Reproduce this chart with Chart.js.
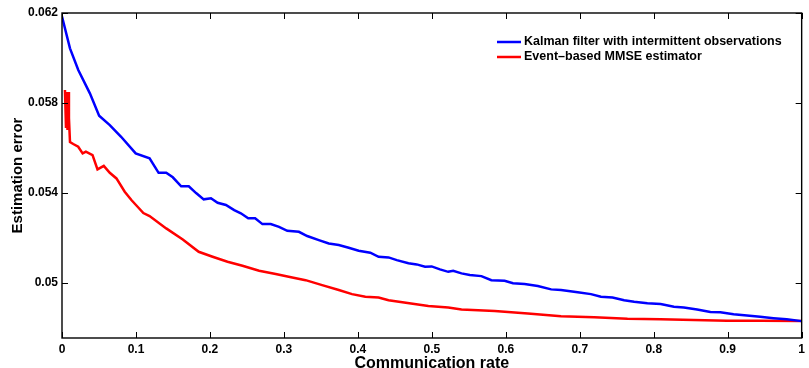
<!DOCTYPE html>
<html>
<head>
<meta charset="utf-8">
<script src="https://cdn.jsdelivr.net/npm/chart.js@4.4.1/dist/chart.umd.min.js"></script>
<style>
html,body{margin:0;padding:0;background:#fff;}
#wrap{width:809px;height:368px;}
</style>
</head>
<body>
<div id="wrap"><canvas id="c" width="809" height="368"></canvas></div>
<script>
var seriesNames = ['Kalman filter with intermittent observations', 'Event\u2013based MMSE estimator'];

var kalmanRate = [0,0.0108,0.022,0.0377,0.0502,0.0646,0.0799,0.0996,0.1184,0.1306,0.1409,0.1498,0.1611,0.1714,0.1813,0.1916,0.2014,0.2104,0.2216,0.2328,0.2418,0.2517,0.2611,0.271,0.2822,0.2934,0.3046,0.3203,0.3315,0.3472,0.3607,0.3742,0.3876,0.4011,0.4168,0.428,0.4415,0.4526,0.4684,0.4796,0.4908,0.4998,0.5110,0.5222,0.5289,0.5401,0.5513,0.567,0.5805,0.5984,0.6097,0.6254,0.6433,0.6613,0.6747,0.6972,0.7151,0.7286,0.7443,0.76,0.7735,0.7914,0.8093,0.8273,0.8407,0.8587,0.8766,0.8901,0.908,0.926,0.9439,0.9619,0.9798,1];
var kalmanErr = [0.06184,0.06043,0.05947,0.05843,0.05744,0.05702,0.0565,0.05576,0.05554,0.0549,0.0549,0.0547,0.0543,0.0543,0.054,0.05372,0.05377,0.05357,0.05347,0.05324,0.0531,0.05288,0.05288,0.05262,0.05262,0.0525,0.05232,0.05228,0.05209,0.05191,0.05176,0.05169,0.05157,0.05144,0.05135,0.05117,0.05114,0.05102,0.05088,0.05083,0.05073,0.05074,0.05061,0.0505,0.05055,0.05043,0.05036,0.05031,0.05013,0.0501,0.04999,0.04996,0.04987,0.04972,0.04969,0.04959,0.04951,0.04939,0.04936,0.04924,0.04917,0.0491,0.04907,0.04895,0.04892,0.04883,0.04872,0.0487,0.04862,0.04856,0.0485,0.04844,0.04839,0.04831];

var eventRate = [0.004,0.0054,0.0063,0.0074,0.0085,0.0094,0.0108,0.0152,0.0219,0.0279,0.0323,0.0413,0.048,0.0565,0.0646,0.0736,0.0848,0.0938,0.1,0.11,0.1184,0.1409,0.1633,0.1848,0.2036,0.2238,0.244,0.2665,0.2889,0.3113,0.3293,0.3517,0.3742,0.3921,0.4101,0.428,0.4415,0.4953,0.5222,0.5401,0.585,0.6299,0.6747,0.7196,0.7645,0.8093,0.8542,0.8991,0.9439,1];
var eventErr = [0.05858,0.05689,0.05849,0.0568,0.05849,0.05733,0.05627,0.05618,0.05606,0.05576,0.05584,0.05569,0.05505,0.05521,0.0549,0.05465,0.05406,0.05369,0.05347,0.05311,0.05298,0.05243,0.05194,0.05139,0.05117,0.05095,0.05077,0.05055,0.0504,0.05025,0.05013,0.04991,0.04969,0.04951,0.04939,0.04936,0.04924,0.04898,0.04892,0.04883,0.04876,0.04865,0.04853,0.04848,0.04841,0.04839,0.04836,0.04833,0.04833,0.04831];

var yTicks = [0.05, 0.054, 0.058, 0.062];
var xTicks = [0,0.1,0.2,0.3,0.4,0.5,0.6,0.7,0.8,0.9,1];

function pts(xs, ys) {
  return xs.map(function (x, i) { return {x: x, y: ys[i]}; });
}

var FONT = "'Liberation Sans', Arial, Helvetica, sans-serif";

// matlab-like box, inward ticks, legend
var matlabBox = {
  id: 'matlabBox',
  afterDraw: function (chart) {
    var ctx = chart.ctx, a = chart.chartArea;
    var xs = chart.scales.x, ys = chart.scales.y;
    var tl = 6;
    ctx.save();
    ctx.strokeStyle = '#000';
    ctx.lineWidth = 1;
    ctx.beginPath();
    xTicks.forEach(function (v) {
      var px = Math.round(xs.getPixelForValue(v)) + 0.5;
      ctx.moveTo(px, a.bottom); ctx.lineTo(px, a.bottom - tl);
      ctx.moveTo(px, a.top); ctx.lineTo(px, a.top + tl);
    });
    yTicks.forEach(function (v) {
      var py = Math.round(ys.getPixelForValue(v)) + 0.5;
      ctx.moveTo(a.left, py); ctx.lineTo(a.left + tl, py);
      ctx.moveTo(a.right, py); ctx.lineTo(a.right - tl, py);
    });
    ctx.stroke();
    ctx.lineWidth = 1.4;
    ctx.strokeRect(a.left, a.top, a.right - a.left, a.bottom - a.top);

    // legend
    var lx = 497, ly = 42, gap = 15;
    ctx.font = 'bold 12.5px ' + FONT;
    ctx.textBaseline = 'middle';
    ctx.textAlign = 'left';
    chart.data.datasets.forEach(function (ds, i) {
      var y = ly + i * gap;
      ctx.strokeStyle = ds.borderColor;
      ctx.lineWidth = 2.5;
      ctx.beginPath();
      ctx.moveTo(lx, y); ctx.lineTo(lx + 24, y);
      ctx.stroke();
      ctx.fillStyle = '#000';
      ctx.fillText(ds.label, lx + 27, y);
    });
    ctx.restore();
  }
};

var chart = new Chart(document.getElementById('c').getContext('2d'), {
  type: 'line',
  data: {
    datasets: [
      {label: seriesNames[0], data: pts(kalmanRate, kalmanErr), borderColor: '#0000ff', borderWidth: 2.5, pointRadius: 0, tension: 0, fill: false},
      {label: seriesNames[1], data: pts(eventRate, eventErr), borderColor: '#ff0000', borderWidth: 2.5, pointRadius: 0, tension: 0, fill: false}
    ]
  },
  options: {
    responsive: false,
    animation: false,
    layout: {padding: {top: 13, right: 4, left: 0, bottom: 0}},
    plugins: {legend: {display: false}, tooltip: {enabled: false}},
    scales: {
      x: {
        type: 'linear', min: 0, max: 1,
        afterBuildTicks: function (s) { s.ticks = xTicks.map(function (v) { return {value: v}; }); },
        afterFit: function (s) { s.height = 30; },
        grid: {display: false, drawTicks: false},
        border: {display: false},
        ticks: {
          color: '#000', padding: 4, maxRotation: 0, autoSkip: false,
          font: {family: FONT, size: 12, weight: 'bold'},
          callback: function (v) { return String(Math.round(v * 10) / 10); }
        },
        title: {display: true, text: 'Communication rate', color: '#000', padding: {top: 0, bottom: -3.5},
          font: {family: FONT, size: 16, weight: 'bold', lineHeight: 1}}
      },
      y: {
        min: 0.04756, max: 0.062,
        afterBuildTicks: function (s) { s.ticks = yTicks.map(function (v) { return {value: v}; }); },
        afterFit: function (s) { s.width = 62; },
        grid: {display: false, drawTicks: false},
        border: {display: false},
        ticks: {
          color: '#000', padding: 4, autoSkip: false,
          font: {family: FONT, size: 12, weight: 'bold'},
          callback: function (v) { return String(Math.round(v * 1000) / 1000); }
        },
        title: {display: true, text: 'Estimation error', color: '#000', padding: {top: 10, bottom: 0},
          font: {family: FONT, size: 15, weight: 'bold', lineHeight: 1}}
      }
    }
  },
  plugins: [matlabBox]
});
</script>
</body>
</html>
